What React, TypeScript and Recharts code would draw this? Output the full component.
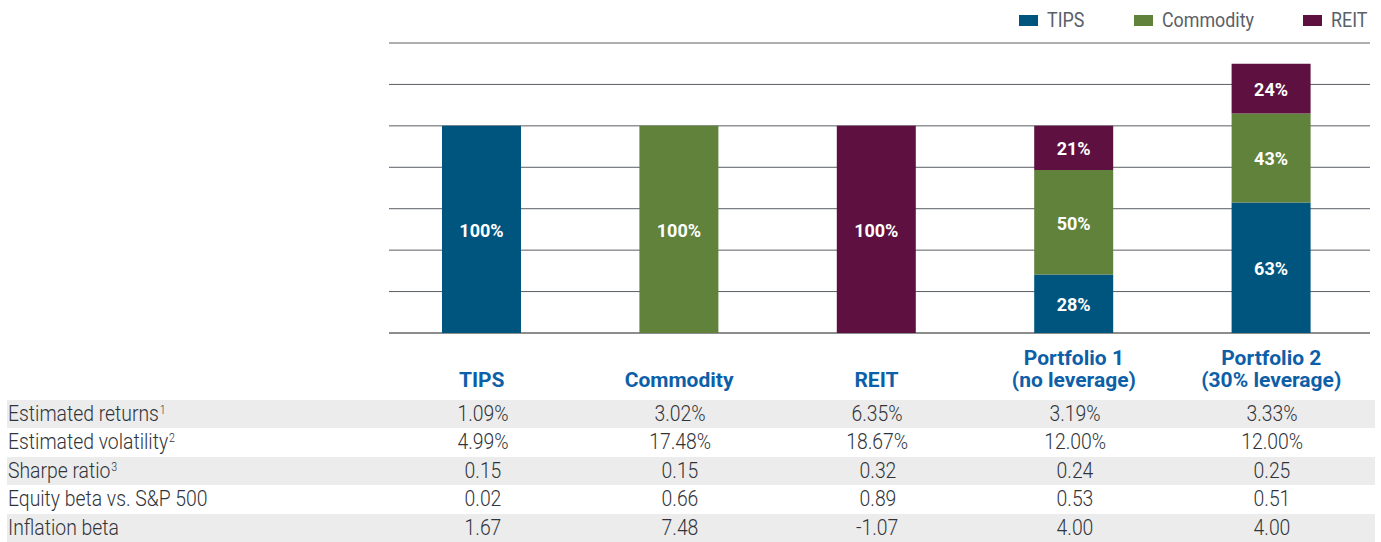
import React from "react";
import { BarChart, Bar, XAxis, YAxis, CartesianGrid, LabelList } from "recharts";

// chart data
const categories = ["TIPS", "Commodity", "REIT", "Portfolio 1", "Portfolio 2"];
const categorySubtitles = ["", "", "", "(no leverage)", "(30% leverage)"];
const tipsWeights = [100, 0, 0, 28.3, 63];
const commodityWeights = [0, 100, 0, 50.4, 43];
const reitWeights = [0, 0, 100, 21.3, 24];
const yTicks = [0, 20, 40, 60, 80, 100, 120, 140];

// table data
const rowLabels = ["Estimated returns", "Estimated volatility", "Sharpe ratio", "Equity beta vs. S&P 500", "Inflation beta"];
const rowNotes = ["1", "2", "3", "", ""];
const estimatedReturns = ["1.09%", "3.02%", "6.35%", "3.19%", "3.33%"];
const estimatedVolatility = ["4.99%", "17.48%", "18.67%", "12.00%", "12.00%"];
const sharpeRatio = ["0.15", "0.15", "0.32", "0.24", "0.25"];
const equityBeta = ["0.02", "0.66", "0.89", "0.53", "0.51"];
const inflationBeta = ["1.67", "7.48", "-1.07", "4.00", "4.00"];

const tableRows = [estimatedReturns, estimatedVolatility, sharpeRatio, equityBeta, inflationBeta];

const series = [
  { key: "tips", name: "TIPS", color: "#00557f" },
  { key: "commodity", name: "Commodity", color: "#61823b" },
  { key: "reit", name: "REIT", color: "#5e1140" },
];

const data = categories.map((name, i) => ({
  name,
  tips: tipsWeights[i],
  commodity: commodityWeights[i],
  reit: reitWeights[i],
}));

const WIDTH = 1381;
const CHART_H = 340;
const PLOT_LEFT = 383;
const PLOT_RIGHT = 11;
const PLOT_TOP = 43;
const PLOT_BOTTOM_MARGIN = 7;
const PLOT_BOTTOM = CHART_H - PLOT_BOTTOM_MARGIN;
const GRID_INSET = 6; // gridlines start a little right of the first band
const COL_W = (WIDTH - PLOT_LEFT - PLOT_RIGHT) / categories.length;

const ctx = typeof document !== "undefined" ? document.createElement("canvas").getContext("2d") : null;

// condensed text: Roboto squeezed horizontally, keeps its real layout width
const Squeezed = ({ text, font, scale, color }: any) => {
  let w = 0;
  if (ctx) {
    ctx.font = font;
    w = ctx.measureText(text).width;
  }
  return (
    <span style={{ display: "inline-block", width: w * scale, whiteSpace: "nowrap" }}>
      <span style={{ display: "inline-block", font, color, transform: `scaleX(${scale})`, transformOrigin: "left center" }}>
        {text}
      </span>
    </span>
  );
};

const pct = (v: any) => (v ? `${Math.round(v)}%` : "");

const gridLine = (p: any) => {
  const isBase = Math.abs(p.y1 - PLOT_BOTTOM) < 1;
  return (
    <line
      key={p.key ?? `g-${p.y1}`}
      x1={p.x1 + GRID_INSET}
      x2={p.x2}
      y1={p.y1}
      y2={p.y2}
      stroke={isBase ? "#8d8d8d" : "#5a5e63"}
      strokeWidth={isBase ? 2 : 1}
    />
  );
};

const ChartLegend = () => (
  <div
    style={{
      position: "absolute",
      top: 8,
      right: 14,
      height: 23,
      display: "flex",
      alignItems: "center",
    }}
  >
    {series.map((s, i) => (
      <div key={s.key} style={{ display: "flex", alignItems: "center", marginLeft: i ? 49 : 0 }}>
        <span style={{ display: "inline-block", width: 19, height: 11, background: s.color, marginRight: 9, marginTop: 1 }} />
        <Squeezed text={s.name} font="400 21px Roboto" scale={0.85} color="#5a6068" />
      </div>
    ))}
  </div>
);

const BODY_FONT = "300 22px Roboto";
const BODY_SCALE = 0.88;
const ROW_H = 28.4;

const StatsTable = () => (
  <div style={{ position: "absolute", left: 7, top: CHART_H, width: WIDTH - 13 }}>
    <div style={{ display: "flex", height: 60 }}>
      <div style={{ width: PLOT_LEFT - 7 }} />
      {categories.map((c, i) => (
        <div
          key={c}
          style={{
            width: COL_W,
            display: "flex",
            flexDirection: "column",
            justifyContent: "flex-end",
            alignItems: "center",
            paddingBottom: 9,
            boxSizing: "border-box",
            color: "#0d5fa8",
            font: "700 21px Roboto",
            lineHeight: "22px",
          }}
        >
          <span style={{ display: "inline-block", whiteSpace: "nowrap" }}>{c}</span>
          {categorySubtitles[i] ? (
            <span style={{ display: "inline-block", whiteSpace: "nowrap" }}>{categorySubtitles[i]}</span>
          ) : null}
        </div>
      ))}
    </div>
    {rowLabels.map((label, r) => (
      <div
        key={label}
        style={{
          display: "flex",
          height: ROW_H,
          lineHeight: `${ROW_H}px`,
          background: r % 2 === 0 ? "#ececec" : "#ffffff",
          color: "#30343a",
        }}
      >
        <div style={{ width: PLOT_LEFT - 7, paddingLeft: 1, position: "relative", top: 1 }}>
          <span
            style={{
              display: "inline-block",
              font: BODY_FONT,
              transform: `scaleX(${BODY_SCALE})`,
              transformOrigin: "left center",
              whiteSpace: "nowrap",
            }}
          >
            {label}
            {rowNotes[r] ? (
              <span style={{ fontSize: 12, position: "relative", top: -7, marginLeft: 1 }}>{rowNotes[r]}</span>
            ) : null}
          </span>
        </div>
        {tableRows[r].map((v, i) => (
          <div key={i} style={{ width: COL_W, textAlign: "center", position: "relative", top: 1 }}>
            <span
              style={{
                display: "inline-block",
                font: BODY_FONT,
                transform: `scaleX(${BODY_SCALE})`,
                transformOrigin: "center center",
              }}
            >
              {v}
            </span>
          </div>
        ))}
      </div>
    ))}
  </div>
);

export default function App() {
  return (
    <div
      style={{
        position: "absolute",
        left: 0,
        top: 0,
        width: WIDTH,
        height: 542,
        background: "#fff",
        fontFamily: "Roboto, sans-serif",
        overflow: "hidden",
      }}
    >
      <BarChart
        width={WIDTH}
        height={CHART_H}
        data={data}
        margin={{ top: PLOT_TOP, right: PLOT_RIGHT, left: PLOT_LEFT, bottom: PLOT_BOTTOM_MARGIN }}
      >
        <CartesianGrid vertical={false} horizontal={gridLine} />
        <XAxis dataKey="name" hide />
        <YAxis hide domain={[0, 140]} ticks={yTicks} type="number" />
        {series.map((s) => (
          <Bar key={s.key} dataKey={s.key} name={s.name} stackId="mix" fill={s.color} barSize={79} isAnimationActive={false}>
            <LabelList
              dataKey={s.key}
              position="center"
              formatter={pct}
              fill="#ffffff"
              dy={1}
              style={{ fontFamily: "Roboto", fontSize: 18, fontWeight: 700 }}
            />
          </Bar>
        ))}
      </BarChart>
      <ChartLegend />
      <StatsTable />
    </div>
  );
}
